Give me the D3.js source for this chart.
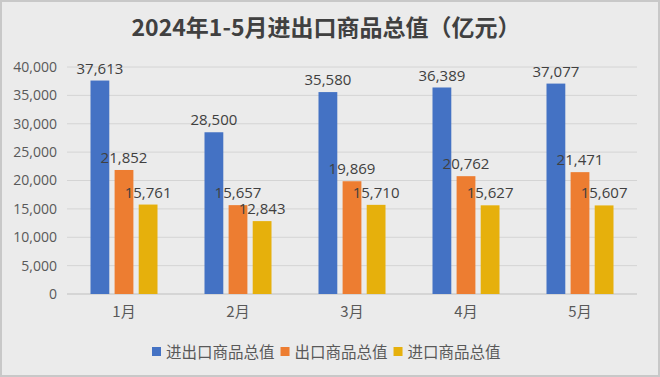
<!DOCTYPE html>
<html>
<head>
<meta charset="utf-8">
<script src="https://cdn.jsdelivr.net/npm/d3@7"></script>
<style>
  body { margin: 0; background: #fff; }
  text { font-family: "Noto Sans CJK SC", "Noto Sans", sans-serif; }
</style>
</head>
<body>
<div class="canva"></div>
<script>
// data
const months = ["1月", "2月", "3月", "4月", "5月"];
const seriesNames = ["进出口商品总值", "出口商品总值", "进口商品总值"];
const totalVals = [37613, 28500, 35580, 36389, 37077];
const exportVals = [21852, 15657, 19869, 20762, 21471];
const importVals = [15761, 12843, 15710, 15627, 15607];
const yTicks = [0, 5000, 10000, 15000, 20000, 25000, 30000, 35000, 40000];
const colors = ["#4472C4", "#ED7D31", "#E6B00C"];

const width = 660, height = 377;
const margin = {top: 67, right: 23, bottom: 83, left: 67};
const graphWidth = width - margin.left - margin.right;
const graphHeight = height - margin.top - margin.bottom;

const svg = d3.select(".canva").append("svg")
    .attr("width", width)
    .attr("height", height);

// background + border
svg.append("rect")
    .attr("x", 1).attr("y", 1)
    .attr("width", width - 2).attr("height", height - 2)
    .attr("fill", "#ebebeb")
    .attr("stroke", "#c8c8c8")
    .attr("stroke-width", 2);

svg.append("text")
    .attr("x", width / 2 - 4).attr("y", 36)
    .attr("text-anchor", "middle")
    .attr("font-size", 23)
    .attr("font-weight", "bold")
    .attr("fill", "#404040")
    .text("2024年1-5月进出口商品总值（亿元）");

const g = svg.append("g")
    .attr("transform", `translate(${margin.left}, ${margin.top})`);

const x = d3.scaleBand().domain(months).range([0, graphWidth]);
const xSub = d3.scaleBand().domain(seriesNames).range([0, 67]).paddingInner(0.22);
const y = d3.scaleLinear().domain([0, 40000]).range([graphHeight, 0]);

// grid
g.selectAll(".grid")
    .data(yTicks)
    .join("line")
    .attr("x1", 0).attr("x2", graphWidth)
    .attr("y1", d => y(d)).attr("y2", d => y(d))
    .attr("stroke", d => d === 0 ? "#bfbfbf" : "#d4d4d4")
    .attr("stroke-width", 1);

// y axis labels
const yAxis = d3.axisLeft(y).tickValues(yTicks).tickFormat(d3.format(",")).tickSize(0).tickPadding(10);
g.append("g").call(yAxis)
    .call(a => a.select(".domain").remove())
    .selectAll("text")
    .attr("font-size", 14)
    .attr("fill", "#595959")
    .style("font-family", "'Open Sans', 'Noto Sans', sans-serif");

// x axis labels
const xAxis = d3.axisBottom(x).tickSize(0).tickPadding(12);
g.append("g").attr("transform", `translate(0, ${graphHeight})`).call(xAxis)
    .call(a => a.select(".domain").remove())
    .selectAll("text")
    .attr("font-size", 15)
    .attr("fill", "#595959");

const allSeries = [totalVals, exportVals, importVals];
const groups = g.selectAll(".grp")
    .data(months)
    .join("g")
    .attr("transform", d => `translate(${x(d) + x.bandwidth() / 2 - 33.5}, 0)`);

groups.each(function(m, i) {
    const grp = d3.select(this);
    seriesNames.forEach((s, j) => {
        const v = allSeries[j][i];
        grp.append("rect")
            .attr("x", xSub(s))
            .attr("y", y(v))
            .attr("width", xSub.bandwidth())
            .attr("height", graphHeight - y(v))
            .attr("fill", colors[j]);
        grp.append("text")
            .attr("x", xSub(s) + xSub.bandwidth() / 2)
            .attr("y", y(v) - 7)
            .attr("text-anchor", "middle")
            .attr("font-size", 15)
            .attr("fill", "#404040")
            .style("font-family", "'Open Sans', 'Noto Sans', sans-serif")
            .text(d3.format(",")(v));
    });
});

// legend
const legend = svg.append("g").attr("transform", "translate(152, 352)");
let lx = 0;
seriesNames.forEach((s, j) => {
    legend.append("rect")
        .attr("x", lx).attr("y", -5)
        .attr("width", 9).attr("height", 9)
        .attr("fill", colors[j]);
    const t = legend.append("text")
        .attr("x", lx + 14).attr("y", 5.5)
        .attr("font-size", 15.5)
        .attr("fill", "#595959")
        .text(s);
    lx += 14 + t.node().getComputedTextLength() + 6;
});
</script>
</body>
</html>
